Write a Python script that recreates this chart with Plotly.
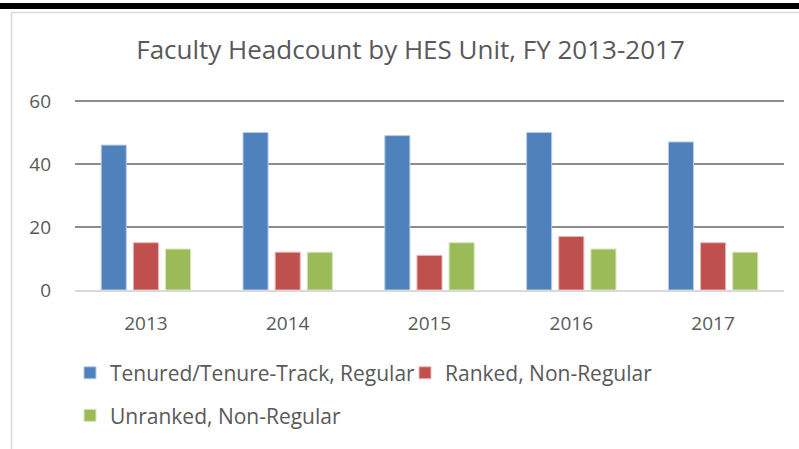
import plotly.graph_objects as go

years = ["2013", "2014", "2015", "2016", "2017"]
tenured = [46, 50, 49, 50, 47]
ranked = [15, 12, 11, 17, 15]
unranked = [13, 12, 15, 13, 12]

series_names = ["Tenured/Tenure-Track, Regular", "Ranked, Non-Regular", "Unranked, Non-Regular"]
colors = ["#4F81BD", "#C0504D", "#9BBB59"]
outlines = ["#B9CDE5", "#E6B9B8", "#D7E4BD"]
legend_ids = ["legend", "legend", "legend2"]

W, H = 799, 449
L, R, T, B = 75, 15, 98, 157
FONT = "Open Sans"
TXT = "#595959"

fig = go.Figure()
for name, vals, c, oc, lg in zip(series_names, [tenured, ranked, unranked], colors, outlines, legend_ids):
    fig.add_trace(go.Bar(
        x=years, y=vals, name=name, legend=lg,
        marker=dict(color=c, line=dict(color=oc, width=1)),
    ))


# helpers to turn page pixels into paper coords
def px_x(v):
    return (v - L) / (W - L - R)


def px_y(v):
    return (H - B - v) / (H - T - B)


# frame like the pasted office chart: black rule on top, light grey box
fig.add_shape(type="rect", xref="paper", yref="paper",
              x0=px_x(-5), x1=px_x(W + 5), y0=px_y(8), y1=px_y(2),
              fillcolor="black", line_width=0, layer="above")
fig.add_shape(type="line", xref="paper", yref="paper",
              x0=px_x(11.5), x1=px_x(W + 5), y0=px_y(11.5), y1=px_y(11.5),
              line=dict(color="#d9d9d9", width=1.5))
fig.add_shape(type="line", xref="paper", yref="paper",
              x0=px_x(11.5), x1=px_x(11.5), y0=px_y(11.5), y1=px_y(H + 5),
              line=dict(color="#d9d9d9", width=1.5))

legend_style = dict(orientation="h", xanchor="left", yanchor="middle",
                    font=dict(size=21, color=TXT, family=FONT),
                    itemwidth=30, bgcolor="rgba(0,0,0,0)")

fig.update_layout(
    width=W, height=H,
    margin=dict(l=L, r=R, t=T, b=B),
    paper_bgcolor="white", plot_bgcolor="white",
    font=dict(family=FONT, color=TXT, size=19),
    title=dict(text="Faculty Headcount by HES Unit, FY 2013-2017",
               x=410.5 / W, xanchor="center", xref="container",
               y=1 - 50 / H, yanchor="middle",
               font=dict(size=26, color=TXT, family=FONT)),
    barmode="group", bargap=0.32, bargroupgap=0.22,
    showlegend=True,
    legend=dict(legend_style, x=px_x(70), y=px_y(376),
                entrywidth=290, entrywidthmode="pixels"),
    legend2=dict(legend_style, x=px_x(70), y=px_y(419)),
    xaxis=dict(showgrid=False, ticks="", showline=True, linecolor="#d9d9d9", linewidth=2,
               ticklabelstandoff=15, tickfont=dict(size=19, color=TXT)),
    yaxis=dict(range=[0, 60 * (H - T - B) / 191], tickvals=[0, 20, 40, 60], showgrid=True,
               gridcolor="#8c8c8c", gridwidth=1.5, zeroline=False, showline=False,
               ticks="", ticklabelstandoff=23, tickfont=dict(size=19, color=TXT)),
)

fig.write_html("out.html", config={"displayModeBar": False},
               post_script="document.body.style.margin='0';")
